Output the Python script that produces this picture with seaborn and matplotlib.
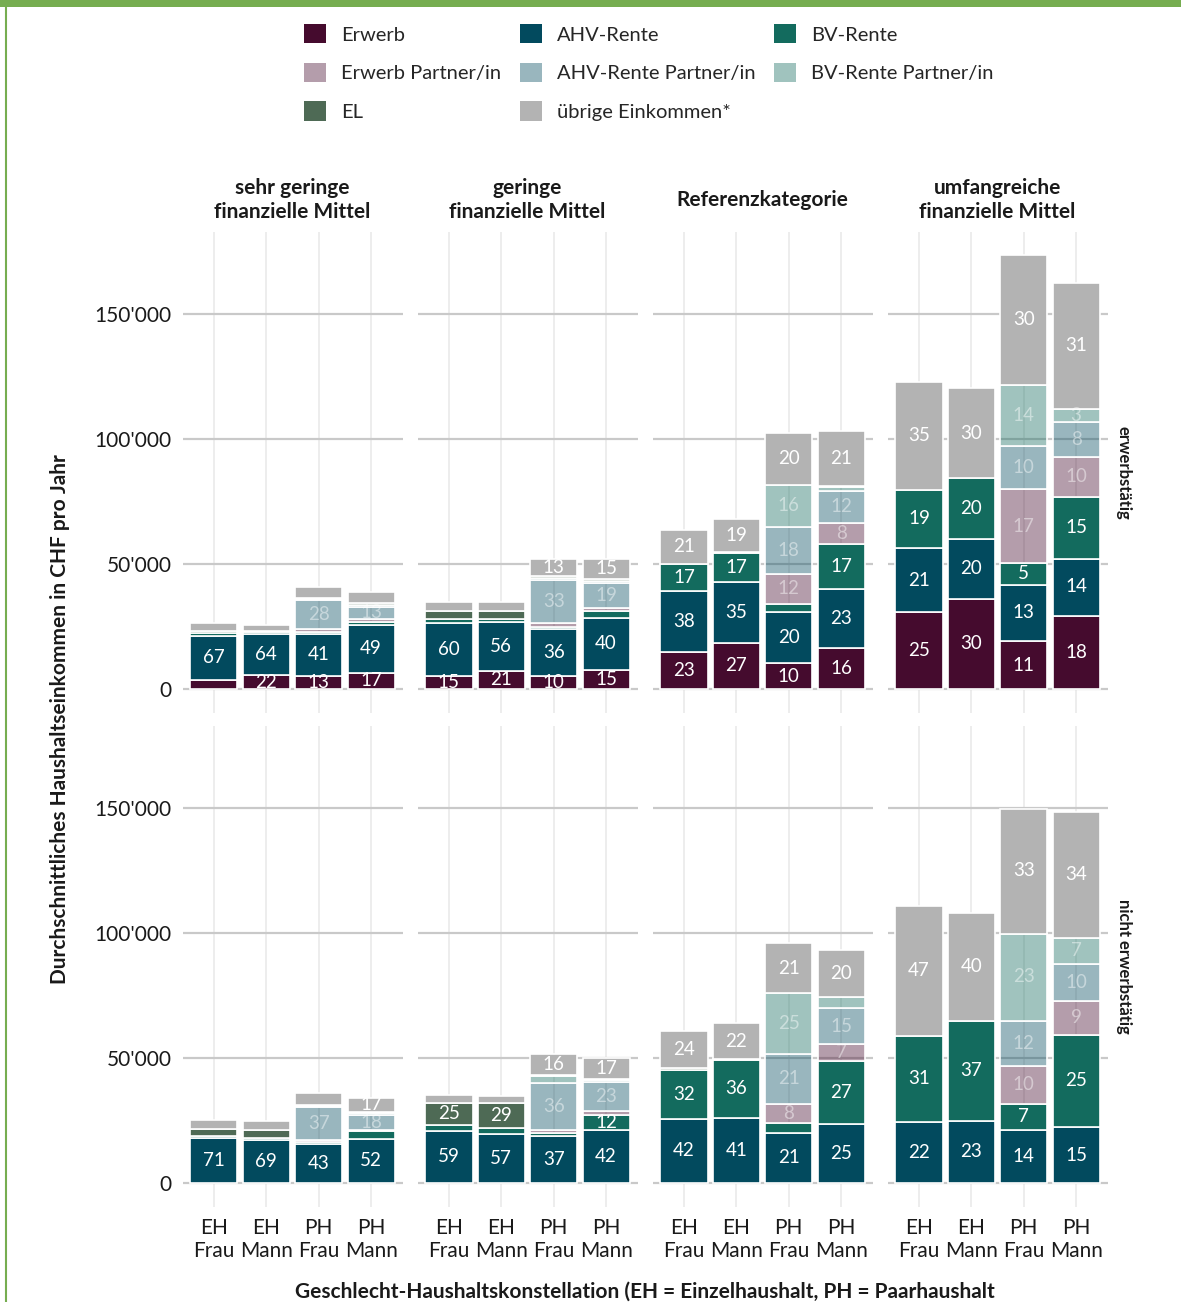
import matplotlib
matplotlib.use("Agg")
import pandas as pd
import matplotlib.pyplot as plt
import seaborn as sns
from matplotlib.patches import Patch, Rectangle
from matplotlib.lines import Line2D
from matplotlib.ticker import FuncFormatter
from matplotlib.colors import to_rgba

# Kategorien
mittel = ["sehr geringe\nfinanzielle Mittel", "geringe\nfinanzielle Mittel",
          "Referenzkategorie", "umfangreiche\nfinanzielle Mittel"]
status = ["erwerbstätig", "nicht erwerbstätig"]
gruppen = ["EH\nFrau", "EH\nMann", "PH\nFrau", "PH\nMann"]
y_ticks = [0, 50000, 100000, 150000]

# CHF pro Jahr; je Zeile eine Facette (erst erwerbstätig, dann nicht erwerbstätig),
# je Spalte eine Gruppe (EH Frau, EH Mann, PH Frau, PH Mann)
erwerb = [
    [3800, 5600, 5300, 6600],
    [5300, 7300, 5200, 7800],
    [14800, 18600, 10300, 16500],
    [30700, 36100, 19100, 29400],
    [0, 0, 0, 0],
    [0, 0, 0, 0],
    [0, 0, 0, 0],
    [0, 0, 0, 0],
]
ahv = [
    [17600, 16400, 16800, 19100],
    [21100, 19400, 18700, 20800],
    [24400, 24100, 20500, 23700],
    [25800, 24100, 22600, 22800],
    [17900, 17100, 15600, 17800],
    [20800, 19800, 19000, 21200],
    [25700, 26200, 20200, 23500],
    [24400, 24900, 21200, 22300],
]
bv = [
    [1000, 700, 800, 1300],
    [1700, 1500, 800, 2600],
    [10900, 11800, 3100, 17900],
    [23300, 24100, 8700, 24500],
    [1100, 900, 900, 3000],
    [2600, 2200, 1000, 6100],
    [19600, 23000, 3700, 25400],
    [34400, 40000, 10600, 37100],
]
erwerb_p = [
    [0, 0, 1200, 900],
    [0, 0, 1600, 1400],
    [0, 0, 12300, 8500],
    [0, 0, 29500, 16300],
    [0, 0, 600, 400],
    [0, 0, 1400, 1600],
    [0, 0, 7700, 6800],
    [0, 0, 15100, 13400],
]
ahv_p = [
    [0, 0, 11500, 5100],
    [0, 0, 17200, 9900],
    [0, 0, 18800, 12700],
    [0, 0, 17400, 13800],
    [0, 0, 13400, 6200],
    [0, 0, 18500, 11600],
    [0, 0, 20200, 14200],
    [0, 0, 18100, 14900],
]
bv_p = [
    [0, 0, 600, 700],
    [0, 0, 1000, 900],
    [0, 0, 16600, 1600],
    [0, 0, 24300, 5200],
    [0, 0, 500, 600],
    [0, 0, 3000, 800],
    [0, 0, 24100, 4500],
    [0, 0, 34800, 10400],
]
el = [
    [1000, 400, 400, 600],
    [3000, 2900, 700, 800],
    [0, 300, 0, 300],
    [0, 0, 0, 0],
    [2600, 3400, 300, 400],
    [8800, 10100, 300, 300],
    [800, 400, 0, 0],
    [0, 0, 0, 0],
]
uebrige = [
    [2900, 2500, 4300, 4400],
    [3800, 3600, 6800, 7800],
    [13500, 13200, 20900, 22000],
    [42900, 36100, 52100, 50500],
    [3600, 3300, 4700, 5800],
    [2900, 2700, 8300, 8600],
    [14700, 14300, 20200, 18900],
    [52100, 43200, 50000, 50500],
]

komponenten = ["Erwerb", "AHV-Rente", "BV-Rente", "Erwerb Partner/in",
               "AHV-Rente Partner/in", "BV-Rente Partner/in", "EL", "übrige Einkommen*"]
werte = [erwerb, ahv, bv, erwerb_p, ahv_p, bv_p, el, uebrige]
farben = ["#450b2e", "#024a5e", "#136b5e", "#450b2e", "#024a5e", "#136b5e", "#4e6a55", "#b3b3b3"]
partner = [False, False, False, True, True, True, False, False]

rows = []
for name, arr in zip(komponenten, werte):
    for f, vals in enumerate(arr):
        for g, v in zip(gruppen, vals):
            rows.append({"status": status[f // 4], "mittel": mittel[f % 4],
                         "gruppe": g, "komponente": name, "wert": v})
df = pd.DataFrame(rows)

W, H = 1181, 1302
sns.set_theme(style="white")
plt.rcParams["font.family"] = ["Lato", "DejaVu Sans"]
fig = plt.figure(figsize=(W / 100, H / 100), dpi=100)

col_left = [182.5, 417.5, 652.5, 887.5]
row_top = [232, 726]
pw, ph = 220, 480.75
ymin, ymax = -9500, 182800
txt = "#1a1a1a"

for r, st in enumerate(status):
    for c, mt in enumerate(mittel):
        ax = fig.add_axes([col_left[c] / W, 1 - (row_top[r] + ph) / H, pw / W, ph / H])
        sub = df[(df.status == st) & (df.mittel == mt)]
        totals = sub.groupby("gruppe")["wert"].sum().reindex(gruppen)
        bottom = pd.Series(0.0, index=gruppen)
        for k, name in enumerate(komponenten):
            part = sub[sub.komponente == name].set_index("gruppe").reindex(gruppen)
            vals = part["wert"].astype(float)
            keep = vals > 0
            if keep.any():
                d = part[keep].reset_index()
                fc = to_rgba(farben[k], 0.4 if partner[k] else 1)
                sns.barplot(data=d, x="gruppe", y="wert", order=gruppen,
                            bottom=bottom[keep].values, color=farben[k], saturation=1,
                            width=0.9, errorbar=None, facecolor=fc,
                            edgecolor="white", linewidth=1.2, ax=ax)
            for i, g in enumerate(gruppen):
                v = vals[g]
                if v >= 5000:
                    ax.text(i, bottom[g] + v / 2, f"{round(100 * v / totals[g])}",
                            ha="center", va="center", color="white",
                            alpha=0.45 if partner[k] else 1, fontsize=13.5)
            bottom = bottom + vals

        ax.set_xlim(-0.6, 3.6)
        ax.set_ylim(ymin, ymax)
        ax.set_yticks(y_ticks)
        ax.yaxis.set_major_formatter(FuncFormatter(lambda v, p: f"{v:,.0f}".replace(",", "'")))
        ax.set_axisbelow(True)
        ax.grid(axis="y", color="#c9c9c9", linewidth=1.6)
        ax.grid(axis="x", color="#ededed", linewidth=1.4)
        for s in ax.spines.values():
            s.set_visible(False)
        ax.set_xlabel("")
        ax.set_ylabel("")
        ax.set_xticks(range(4))
        if r == 1:
            ax.set_xticklabels(gruppen, fontsize=15, color=txt, linespacing=1.2)
        else:
            ax.set_xticklabels([])
        ax.tick_params(axis="x", length=0, pad=8)
        if c == 0:
            ax.tick_params(axis="y", length=5, color="#c9c9c9", width=1.4,
                           labelsize=15, labelcolor=txt, pad=3)
        else:
            ax.tick_params(axis="y", length=0, labelleft=False)

        if r == 0:
            ax.text(0.5, 1 + 32 / ph, mt, transform=ax.transAxes, ha="center", va="center",
                    fontsize=15, fontweight="bold", color=txt, linespacing=1.25)
        if c == 3:
            ax.text(1 + 16 / pw, 0.5, st, transform=ax.transAxes, rotation=-90,
                    ha="center", va="center", fontsize=12, fontweight="bold", color=txt)

# Legende (spaltenweise befüllt, damit die Zeilen wie im Original lauten)
handles = [Patch(facecolor=to_rgba(farben[k], 0.4 if partner[k] else 1), edgecolor="none",
                 label=komponenten[k]) for k in range(len(komponenten))]
order = [0, 3, 6, 1, 4, 7, 2, 5]
fig.legend(handles=[handles[i] for i in order], loc="upper left",
           bbox_to_anchor=(304 / W, 1 - 24 / H), ncol=3, frameon=False, fontsize=14.5,
           handlelength=1.1, handleheight=1.1, handletextpad=0.72,
           labelspacing=0.95, columnspacing=0.95, borderpad=0, borderaxespad=0)

fig.text(60 / W, 1 - 719 / H, "Durchschnittliches Haushaltseinkommen in CHF pro Jahr",
         rotation=90, ha="center", va="center", fontsize=15, fontweight="bold", color=txt)
fig.text(645 / W, 1 - 1292 / H,
         "Geschlecht-Haushaltskonstellation (EH = Einzelhaushalt, PH = Paarhaushalt",
         ha="center", va="center", fontsize=15, fontweight="bold", color=txt)

# grüner Rahmen oben und links
fig.add_artist(Rectangle((0, 1 - 7 / H), 1, 7 / H, transform=fig.transFigure,
                         facecolor="#76ad50", edgecolor="none"))
fig.add_artist(Line2D([6 / W, 6 / W], [0, 1], transform=fig.transFigure,
                      color="#76ad50", linewidth=1.5))

fig.savefig("out.png", dpi=100)
